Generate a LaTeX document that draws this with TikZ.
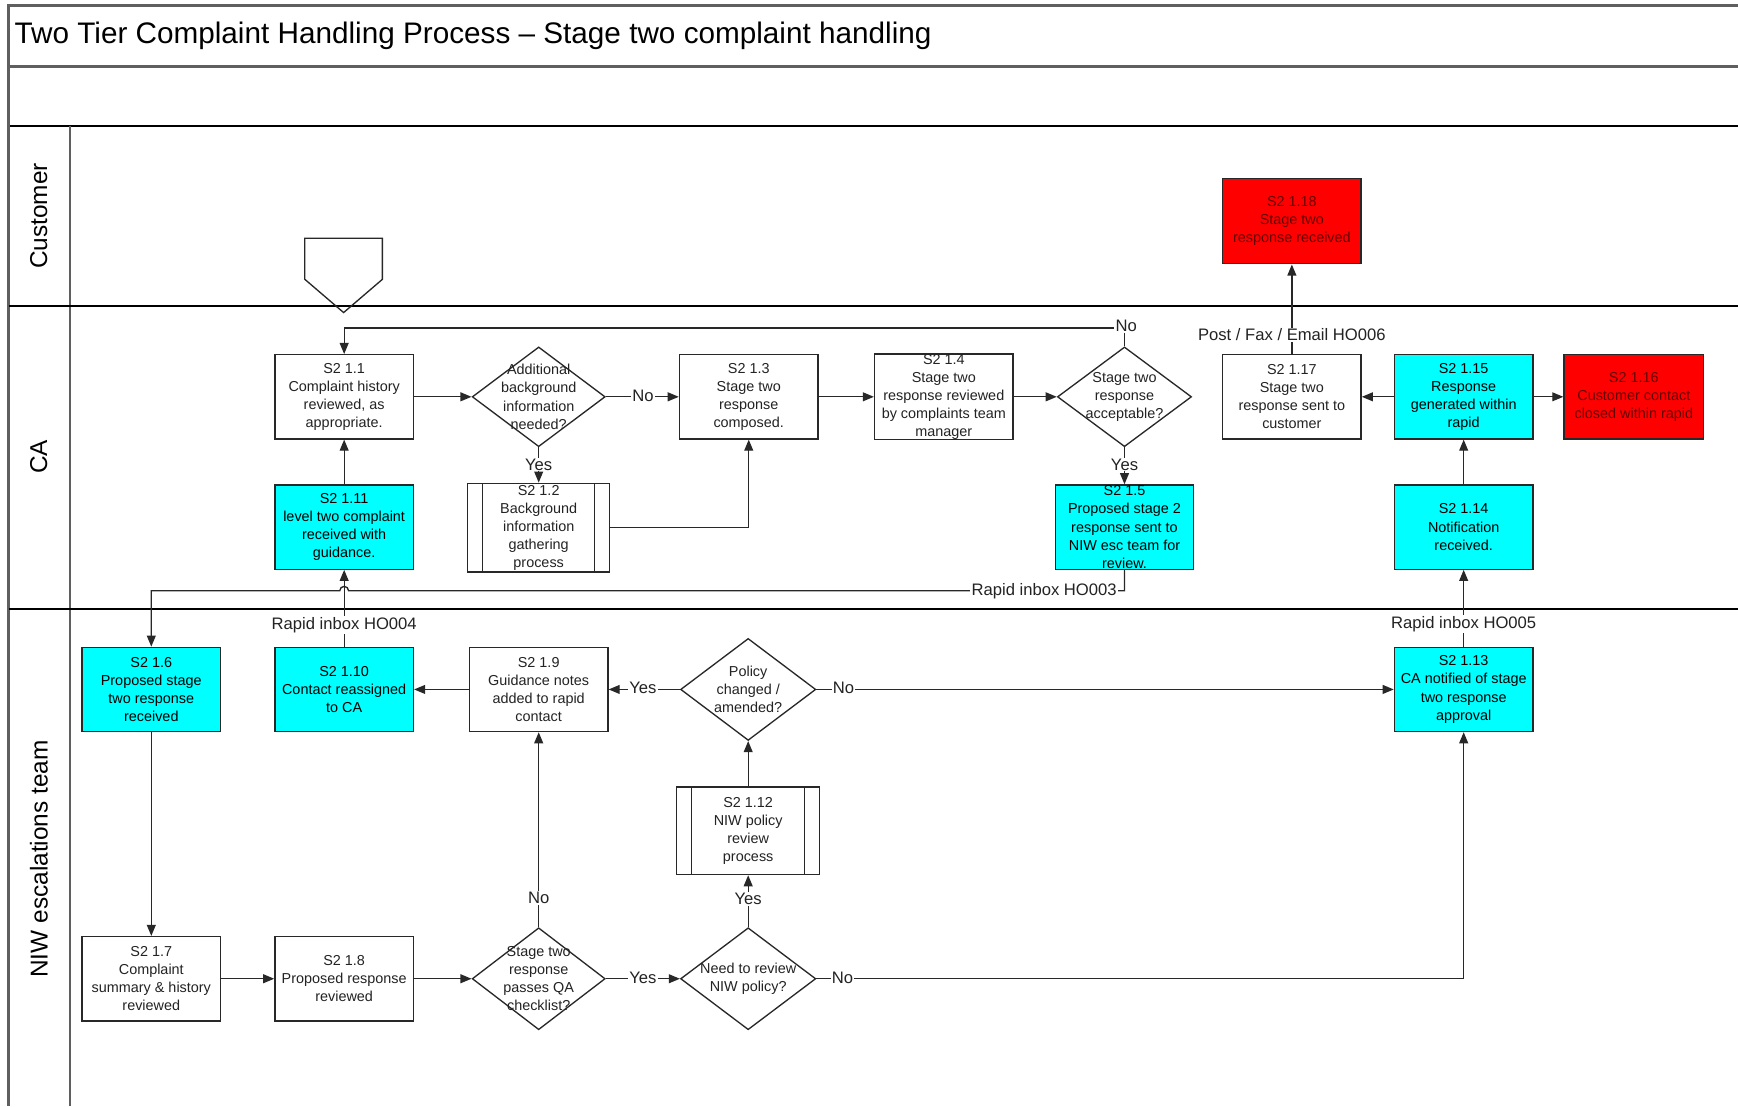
\documentclass[tikz,border=0pt]{standalone}
\usepackage{fontspec}
\setmainfont{Liberation Sans}
\usetikzlibrary{shapes.geometric,arrows.meta}
\definecolor{boxcyan}{RGB}{0,255,255}
\definecolor{boxred}{RGB}{255,0,0}
\definecolor{edgec}{RGB}{40,40,40}
\definecolor{framec}{RGB}{95,95,95}
\definecolor{redtext}{RGB}{100,0,0}
\definecolor{txtc}{RGB}{35,35,35}

\begin{document}
\begin{tikzpicture}[x=1pt,y=-1pt,
  every node/.style={font=\fontsize{13}{16.3}\selectfont, text=txtc},
  box/.style={draw=edgec, line width=1.2pt, minimum width=125pt, minimum height=76pt,
    inner sep=0pt, align=center, fill=white},
  cyanbox/.style={box, fill=boxcyan, text=black},
  redbox/.style={box, fill=boxred, text=redtext},
  subproc/.style={box, minimum width=128pt, minimum height=80pt,
    path picture={\draw[edgec, line width=1.2pt]
      ([xshift=13.5pt]path picture bounding box.north west) -- ([xshift=13.5pt]path picture bounding box.south west)
      ([xshift=-13.5pt]path picture bounding box.north east) -- ([xshift=-13.5pt]path picture bounding box.south east);}},
  dia/.style={draw=edgec, line width=1.2pt, diamond, minimum width=120pt, minimum height=90pt,
    inner sep=0pt, fill=white},
  dtxt/.style={align=center, inner sep=0pt},
  arr/.style={draw=edgec, line width=1.2pt, -{Triangle[length=10pt,width=8pt]}},
  lbl/.style={font=\fontsize{15}{17}\selectfont, fill=white, inner sep=1pt},
  laneline/.style={draw=black, line width=1.8pt},
  frameline/.style={draw=framec, line width=2.6pt}
]

% page and swimlane frame
\fill[white] (0,0) rectangle (1568,998);
\useasboundingbox (0,0) rectangle (1568,998);
\draw[frameline] (8,5) -- (1568,5);
\draw[frameline] (8,60) -- (1568,60);
\draw[laneline] (8,114) -- (1568,114);
\draw[frameline] (8,4) -- (8,998);
\draw[draw=framec, line width=1.8pt] (63,114) -- (63,998);
\draw[laneline] (8,276) -- (1568,276);
\draw[laneline] (8,549) -- (1568,549);

\node[anchor=west, inner sep=0pt, font=\fontsize{26.8}{30}\selectfont, text=black] (title) at (13,32)
  {Two Tier Complaint Handling Process – Stage two complaint handling};

\node[rotate=90, font=\fontsize{22}{26}\selectfont, text=black] (lanecust) at (35,195) {Customer};
\node[rotate=90, font=\fontsize{22}{26}\selectfont, text=black] (laneca) at (35,412) {CA};
\node[rotate=90, font=\fontsize{22}{26}\selectfont, text=black] (laneniw) at (35,775) {NIW escalations team};

% off-page connector
\draw[draw=edgec, line width=1.2pt] (275,215) -- (345,215) -- (345,252) -- (310,282) -- (275,252) -- cycle;

% Customer lane
\node[redbox, minimum height=77pt] (s118) at (1165.5,199.5) {S2 1.18\\Stage two\\response received};

% CA lane
\node[box] (s11) at (310.5,358) {S2 1.1\\Complaint history\\reviewed, as\\appropriate.};
\node[dia] (d1) at (486,358) {};
\node[dtxt] (d1t) at (d1) {Additional\\background\\information\\needed?};
\node[box] (s13) at (675.5,358) {S2 1.3\\Stage two\\response\\composed.};
\node[box] (s14) at (851.5,358) {S2 1.4\\Stage two\\response reviewed\\by complaints team\\manager};
\node[dia, minimum width=121pt] (d2) at (1014.5,358) {};
\node[dtxt] (d2t) at (d2) {Stage two\\response\\acceptable?};
\node[box] (s117) at (1165.5,358) {S2 1.17\\Stage two\\response sent to\\customer};
\node[cyanbox] (s115) at (1320.5,358) {S2 1.15\\Response\\generated within\\rapid};
\node[redbox, minimum width=126pt] (s116) at (1474,358) {S2 1.16\\Customer contact\\closed within rapid};

\node[cyanbox] (s111) at (310.5,475.5) {S2 1.11\\level two complaint\\received with\\guidance.};
\node[subproc] (s12) at (486,476) {S2 1.2\\Background\\information\\gathering\\process};
\node[cyanbox] (s15) at (1014.5,475.5) {S2 1.5\\Proposed stage 2\\response sent to\\NIW esc team for\\review.};
\node[cyanbox] (s114) at (1320.5,475.5) {S2 1.14\\Notification\\received.};

% NIW escalations lane
\node[cyanbox] (s16) at (136.5,622) {S2 1.6\\Proposed stage\\two response\\received};
\node[cyanbox] (s110) at (310.5,622) {S2 1.10\\Contact reassigned\\to CA};
\node[box] (s19) at (486,622) {S2 1.9\\Guidance notes\\added to rapid\\contact};
\node[dia, minimum width=122pt, minimum height=92pt] (d3) at (675,622) {};
\node[dtxt] (d3t) at (d3) {Policy\\changed /\\amended?};
\node[cyanbox] (s113) at (1320.5,622) {S2 1.13\\CA notified of stage\\two response\\approval};
\node[subproc, minimum width=129pt, minimum height=79pt] (s112) at (675,749.5) {S2 1.12\\NIW policy\\review\\process};

\node[box] (s17) at (136.5,883) {S2 1.7\\Complaint\\summary \& history\\reviewed};
\node[box] (s18) at (310.5,883) {S2 1.8\\Proposed response\\reviewed};
\node[dia, minimum height=92pt] (d4) at (486,883) {};
\node[dtxt] (d4t) at (d4) {Stage two\\response\\passes QA\\checklist?};
\node[dia, minimum width=122pt, minimum height=92pt] (d5) at (675,883) {};
\node[dtxt] (d5t) at (d5) {Need to review\\NIW policy?};

% connectors
\coordinate (looptop) at (1014.5,296);
\draw[arr] (d2.north) -- (looptop) -| (s11.north);
\draw[arr] (s11.east) -- (d1.west);
\draw[arr] (d1.east) -- (s13.west);
\draw[arr] (d1.south) -- (s12.north);
\draw[arr] (s12.east) -| (s13.south);
\draw[arr] (s13.east) -- (s14.west);
\draw[arr] (s14.east) -- (d2.west);
\draw[arr] (d2.south) -- (s15.north);
\draw[arr] (s111.north) -- (s11.south);
\draw[arr] (s110.north) -- (s111.south);
\coordinate (hop) at (314.5,533);
\draw[arr] (s15.south) |- (hop) arc[start angle=0, end angle=180, radius=4pt] -| (s16.north);
\draw[arr] (s16.south) -- (s17.north);
\draw[arr] (s17.east) -- (s18.west);
\draw[arr] (s18.east) -- (d4.west);
\draw[arr] (d4.east) -- (d5.west);
\draw[arr] (d4.north) -- (s19.south);
\draw[arr] (d5.north) -- (s112.south);
\draw[arr] (d5.east) -| (s113.south);
\draw[arr] (s112.north) -- (d3.south);
\draw[arr] (d3.west) -- (s19.east);
\draw[arr] (d3.east) -- (s113.west);
\draw[arr] (s19.west) -- (s110.east);
\draw[arr] (s113.north) -- (s114.south);
\draw[arr] (s114.north) -- (s115.south);
\draw[arr] (s115.west) -- (s117.east);
\draw[arr] (s115.east) -- (s116.west);
\draw[arr] (s117.north) -- (s118.south);

% connector labels
\node[lbl] (lno0) at (1016,294) {No};
\node[lbl] (lno1) at (580,357) {No};
\node[lbl] (lyes1) at (486,419) {Yes};
\node[lbl] (lyes2) at (1014.5,419) {Yes};
\node[lbl] (lho3) at (942,533) {Rapid inbox HO003};
\node[lbl] (lho4) at (310.5,564) {Rapid inbox HO004};
\node[lbl] (lho5) at (1320.5,563) {Rapid inbox HO005};
\node[lbl] (lho6) at (1165.5,302) {Post / Fax / Email HO006};
\node[lbl] (lyes3) at (580,621) {Yes};
\node[lbl] (lno3) at (761,621) {No};
\node[lbl] (lno4) at (486,810) {No};
\node[lbl] (lyes5) at (675,811) {Yes};
\node[lbl] (lyes4) at (580,882) {Yes};
\node[lbl] (lno5) at (760,882) {No};

\end{tikzpicture}
\end{document}
